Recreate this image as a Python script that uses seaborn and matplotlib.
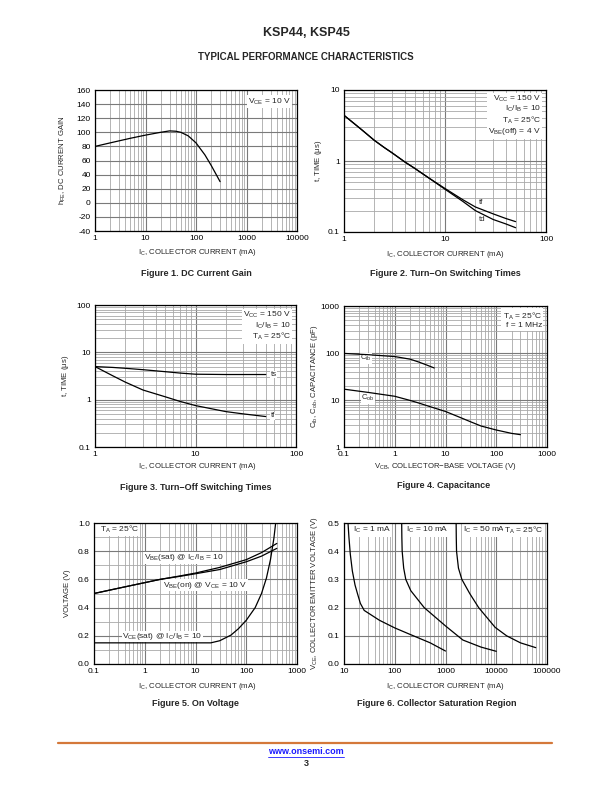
import numpy as np
import pandas as pd
import matplotlib
matplotlib.use("Agg")
import matplotlib.pyplot as plt
import seaborn as sns
from matplotlib.ticker import FixedLocator, FixedFormatter, LogLocator, NullFormatter, MultipleLocator
from matplotlib.lines import Line2D

#================ data ================
# Figure 1 - DC current gain
f1_ic = [1, 2, 5, 10, 20, 30, 40, 50, 70, 100, 150, 200, 300]
f1_hfe = [80, 85, 91.5, 96, 100, 102, 101.5, 100, 95, 85, 68, 53, 30]

# Figure 2 - turn-on switching times
f2_ic = [1, 1.25, 1.5, 2, 2.5, 3, 4, 5, 7, 10, 15, 20, 30, 40, 50]
f2_td = [4.4, 3.4, 2.75, 1.95, 1.55, 1.3, 0.97, 0.79, 0.57, 0.4, 0.27, 0.2, 0.15, 0.13, 0.115]
f2_tf = [4.4, 3.4, 2.75, 1.95, 1.55, 1.3, 0.97, 0.79, 0.57, 0.41, 0.285, 0.225, 0.18, 0.155, 0.14]

# Figure 3 - turn-off switching times
f3_ic = [1, 1.5, 2, 3, 5, 7, 10, 20, 30, 50]
f3_ts = [5.0, 4.8, 4.6, 4.3, 3.9, 3.65, 3.45, 3.4, 3.4, 3.4]
f3_tf = [5.0, 3.2, 2.35, 1.6, 1.15, 0.92, 0.75, 0.56, 0.5, 0.44]

# Figure 4 - capacitance
f4_vcb_ib = [0.1, 0.3, 1, 2, 3, 4, 6]
f4_cib = [98, 92, 84, 74, 64, 57, 48]
f4_vcb_ob = [0.1, 0.3, 1, 2, 3, 5, 10, 20, 30, 50, 100, 200, 300]
f4_cob = [17, 14.5, 12, 9.8, 8.6, 7.2, 5.7, 4.2, 3.5, 2.8, 2.3, 1.95, 1.83]

# Figure 5 - on voltage
f5_ic = [0.1, 0.3, 1, 2, 5, 10, 30, 100, 200, 400]
f5_vbe_sat = [0.50, 0.537, 0.577, 0.60, 0.625, 0.645, 0.685, 0.74, 0.79, 0.855]
f5_vbe_on = [0.50, 0.537, 0.577, 0.60, 0.622, 0.64, 0.67, 0.725, 0.765, 0.82]
f5_ic_ce = [0.1, 1, 10, 20, 30, 50, 70, 100, 150, 200, 250, 300, 350, 380]
f5_vce_sat = [0.15, 0.15, 0.15, 0.15, 0.165, 0.205, 0.25, 0.31, 0.40, 0.50, 0.61, 0.74, 0.89, 1.0]

# Figure 6 - collector saturation region
f6_x_1 = [12, 12.5, 13.3, 14.6, 16.5, 18.4, 21, 25, 50, 100, 200, 500, 1000]
f6_v_1 = [0.5, 0.45, 0.39, 0.33, 0.28, 0.25, 0.215, 0.19, 0.155, 0.128, 0.105, 0.075, 0.046]
f6_x_10 = [137, 138, 140, 150, 165, 207, 380, 1000, 2200, 5000, 10000]
f6_v_10 = [0.5, 0.45, 0.4, 0.34, 0.30, 0.26, 0.20, 0.135, 0.085, 0.06, 0.045]
f6_x_50 = [1620, 1630, 1650, 1800, 2100, 3000, 4500, 9500, 16000, 30000, 60000]
f6_v_50 = [0.5, 0.45, 0.4, 0.34, 0.30, 0.25, 0.20, 0.13, 0.10, 0.075, 0.058]

#================ style ================
sns.set_style("white")
plt.rcParams['font.family'] = ['Liberation Sans', 'DejaVu Sans']
plt.rcParams['mathtext.fontset'] = 'custom'
plt.rcParams['mathtext.rm'] = 'Liberation Sans'
plt.rcParams['mathtext.it'] = 'Liberation Sans'
plt.rcParams['mathtext.bf'] = 'Liberation Sans:bold'

W, H = 612, 792
fig = plt.figure(figsize=(W / 100, H / 100), dpi=100)

FS = 6
AFS = 5.6
LW = 0.9
BOX = dict(facecolor='white', edgecolor='none', pad=1.0)
SBOX = dict(facecolor='white', edgecolor='none', pad=0.3)


def px_axes(x0, y0, x1, y1):
    return fig.add_axes([x0 / W, 1 - y1 / H, (x1 - x0) / W, (y1 - y0) / H])


def ftext(x, y, s, **kw):
    fig.text(x / W, 1 - y / H, s, **kw)


def style(ax, xlog, ylog, xt, xl, yt, yl, ylim, xlim):
    if xlog:
        ax.set_xscale('log')
    if ylog:
        ax.set_yscale('log')
    ax.set_xlim(*xlim)
    ax.set_ylim(*ylim)
    ax.xaxis.set_major_locator(FixedLocator(xt))
    ax.xaxis.set_major_formatter(FixedFormatter(xl))
    ax.yaxis.set_major_locator(FixedLocator(yt))
    ax.yaxis.set_major_formatter(FixedFormatter(yl))
    if xlog:
        ax.xaxis.set_minor_locator(LogLocator(base=10, subs=np.arange(2, 10)))
        ax.xaxis.set_minor_formatter(NullFormatter())
    if ylog:
        ax.yaxis.set_minor_locator(LogLocator(base=10, subs=np.arange(2, 10)))
        ax.yaxis.set_minor_formatter(NullFormatter())
    ax.grid(which='major', color='#7a7a7a', lw=0.8)
    ax.grid(which='minor', color='#a8a8a8', lw=0.6)
    ax.set_axisbelow(True)
    ax.tick_params(which='both', length=0, labelsize=FS, pad=3, colors='black')
    for s in ax.spines.values():
        s.set_color('black')
        s.set_linewidth(0.9)
        s.set_zorder(5)
    ax.set_xlabel('')
    ax.set_ylabel('')


def curve(ax, x, y):
    sns.lineplot(x=x, y=y, ax=ax, color='black', lw=LW, estimator=None, sort=False, zorder=4)


def note(ax, x, y, s, box=BOX, **kw):
    kw.setdefault('ha', 'left')
    kw.setdefault('va', 'center')
    kw.setdefault('fontsize', FS)
    ax.text(x, y, s, bbox=box, zorder=3, **kw)


#================ Figure 1 ================
ax1 = px_axes(95, 90, 297, 231)
curve(ax1, f1_ic, f1_hfe)
style(ax1, True, False, [1, 10, 100, 1000, 10000], ['1', '10', '100', '1000', '10000'],
      list(range(-40, 161, 20)), [str(v) for v in range(-40, 161, 20)], (-40, 160), (1, 10000))
note(ax1, 0.97, 0.955, r'V$_\mathrm{CE}$ = 10 V', transform=ax1.transAxes, ha='right', va='top')
ax1.set_ylabel(r'h$_\mathrm{FE}$, DC CURRENT GAIN', fontsize=AFS)
ax1.yaxis.set_label_coords(-0.135, 0.5)

#================ Figure 2 ================
ax2 = px_axes(344, 90, 546, 232)
curve(ax2, f2_ic, f2_td)
curve(ax2, f2_ic, f2_tf)
style(ax2, True, True, [1, 10, 100], ['1', '10', '100'], [0.1, 1, 10], ['0.1', '1', '10'],
      (0.1, 10), (1, 100))
note(ax2, 0.975, 0.975, 'V$_\\mathrm{CC}$ = 150 V\nI$_\\mathrm{C}$/I$_\\mathrm{B}$ = 10\n'
     'T$_\\mathrm{A}$ = 25°C\nV$_\\mathrm{BE}$(off) = 4 V', transform=ax2.transAxes,
     ha='right', va='top', linespacing=1.05)
note(ax2, 21.5, 0.26, 'tf', box=SBOX, fontsize=5.5)
note(ax2, 21.5, 0.15, 'td', box=SBOX, fontsize=5.5)
ax2.set_ylabel(r't, TIME ($\mu$s)', fontsize=AFS)
ax2.yaxis.set_label_coords(-0.1, 0.5)

#================ Figure 3 ================
ax3 = px_axes(95, 305, 296, 447)
curve(ax3, f3_ic, f3_ts)
curve(ax3, f3_ic, f3_tf)
style(ax3, True, True, [1, 10, 100], ['1', '10', '100'], [0.1, 1, 10, 100],
      ['0.1', '1', '10', '100'], (0.1, 100), (1, 100))
note(ax3, 0.975, 0.965, 'V$_\\mathrm{CC}$ = 150 V\nI$_\\mathrm{C}$/I$_\\mathrm{B}$ = 10\n'
     'T$_\\mathrm{A}$ = 25°C', transform=ax3.transAxes, ha='right', va='top', linespacing=1.05)
note(ax3, 56, 3.4, 'ts', box=SBOX, fontsize=5.5)
note(ax3, 56, 0.46, 'tf', box=SBOX, fontsize=5.5)
ax3.set_ylabel(r't, TIME ($\mu$s)', fontsize=AFS)
ax3.yaxis.set_label_coords(-0.12, 0.5)

#================ Figure 4 ================
ax4 = px_axes(344, 306, 547, 447)
curve(ax4, f4_vcb_ib, f4_cib)
curve(ax4, f4_vcb_ob, f4_cob)
style(ax4, True, True, [0.1, 1, 10, 100, 1000], ['0.1', '1', '10', '100', '1000'],
      [1, 10, 100, 1000], ['1', '10', '100', '1000'], (1, 1000), (0.1, 1000))
note(ax4, 0.975, 0.965, 'T$_\\mathrm{A}$ = 25°C\nf = 1 MHz', transform=ax4.transAxes,
     ha='right', va='top', linespacing=1.05)
note(ax4, 0.21, 78, r'C$_\mathrm{ib}$', box=SBOX, fontsize=5.5)
note(ax4, 0.22, 11, r'C$_\mathrm{ob}$', box=SBOX, fontsize=5.5)
ax4.set_ylabel(r'C$_\mathrm{ib}$, C$_\mathrm{ob}$, CAPACITANCE (pF)', fontsize=AFS)
ax4.yaxis.set_label_coords(-0.12, 0.5)

#================ Figure 5 ================
ax5 = px_axes(94, 523, 297, 664)
curve(ax5, f5_ic, f5_vbe_sat)
curve(ax5, f5_ic, f5_vbe_on)
curve(ax5, f5_ic_ce, f5_vce_sat)
yt5 = [0.0, 0.2, 0.4, 0.6, 0.8, 1.0]
style(ax5, True, False, [0.1, 1, 10, 100, 1000], ['0.1', '1', '10', '100', '1000'],
      yt5, ['%.1f' % v for v in yt5], (0, 1.0), (0.1, 1000))
ax5.yaxis.set_minor_locator(MultipleLocator(0.1))
ax5.grid(which='minor', axis='y', color='#a8a8a8', lw=0.6)
note(ax5, 0.13, 0.955, r'T$_\mathrm{A}$ = 25°C')
note(ax5, 0.95, 0.752, r'V$_\mathrm{BE}$(sat) @ I$_\mathrm{C}$/I$_\mathrm{B}$ = 10', box=SBOX)
note(ax5, 2.3, 0.56, r'V$_\mathrm{BE}$(on) @ V$_\mathrm{CE}$ = 10 V', box=SBOX)
note(ax5, 0.36, 0.195, r'V$_\mathrm{CE}$(sat) @ I$_\mathrm{C}$/I$_\mathrm{B}$ = 10', box=SBOX)
ax5.set_ylabel('VOLTAGE (V)', fontsize=AFS)
ax5.yaxis.set_label_coords(-0.115, 0.5)

#================ Figure 6 ================
ax6 = px_axes(344, 523, 547, 664)
curve(ax6, f6_x_1, f6_v_1)
curve(ax6, f6_x_10, f6_v_10)
curve(ax6, f6_x_50, f6_v_50)
yt6 = [0.0, 0.1, 0.2, 0.3, 0.4, 0.5]
style(ax6, True, False, [10, 100, 1000, 10000, 100000], ['10', '100', '1000', '10000', '100000'],
      yt6, ['%.1f' % v for v in yt6], (0, 0.5), (10, 100000))
for xx, s in [(15, r'I$_\mathrm{C}$ = 1 mA'), (170, r'I$_\mathrm{C}$ = 10 mA'),
              (2250, r'I$_\mathrm{C}$ = 50 mA'), (14500, r'T$_\mathrm{A}$ = 25°C')]:
    note(ax6, xx, 0.475, s)
ax6.set_ylabel(r'V$_\mathrm{CE}$, COLLECTOR EMITTER VOLTAGE (V)', fontsize=AFS)
ax6.yaxis.set_label_coords(-0.12, 0.5)

#================ page text ================
ic_label = r'I$_\mathrm{C}$, COLLECTOR CURRENT (mA)'
ftext(197, 253, ic_label, fontsize=AFS, ha='center', va='center')
ftext(445, 254, ic_label, fontsize=AFS, ha='center', va='center')
ftext(197, 467, ic_label, fontsize=AFS, ha='center', va='center')
ftext(445, 467, r'V$_\mathrm{CB}$, COLLECTOR$-$BASE VOLTAGE (V)', fontsize=AFS, ha='center', va='center')
ftext(197, 686, ic_label, fontsize=AFS, ha='center', va='center')
ftext(445, 686, ic_label, fontsize=AFS, ha='center', va='center')

cap = dict(fontsize=6.5, fontweight='bold', ha='center', va='center')
ftext(196, 273, 'Figure 1. DC Current Gain', **cap)
ftext(445, 273, 'Figure 2. Turn\u2212On Switching Times', **cap)
ftext(196, 488, 'Figure 3. Turn\u2212Off Switching Times', **cap)
ftext(444, 486, 'Figure 4. Capacitance', **cap)
ftext(195, 704, 'Figure 5. On Voltage', **cap)
ftext(437, 704, 'Figure 6. Collector Saturation Region', **cap)

ftext(306, 33, 'KSP44, KSP45', fontsize=9, fontweight='bold', ha='center', va='center')
ftext(306, 57, 'TYPICAL PERFORMANCE CHARACTERISTICS', fontsize=7, fontweight='bold',
      ha='center', va='center')

fig.add_artist(Line2D([58 / W, 552 / W], [1 - 743 / H, 1 - 743 / H], color='#d4783a', lw=1.6))
ftext(306, 752, 'www.onsemi.com', fontsize=6.5, fontweight='bold', color='#1a1aff',
      ha='center', va='center')
fig.add_artist(Line2D([268 / W, 344 / W], [1 - 757 / H, 1 - 757 / H], color='#1a1aff', lw=0.6))
ftext(306, 763, '3', fontsize=6.5, fontweight='bold', ha='center', va='center')

fig.savefig('out.png', dpi=100)
